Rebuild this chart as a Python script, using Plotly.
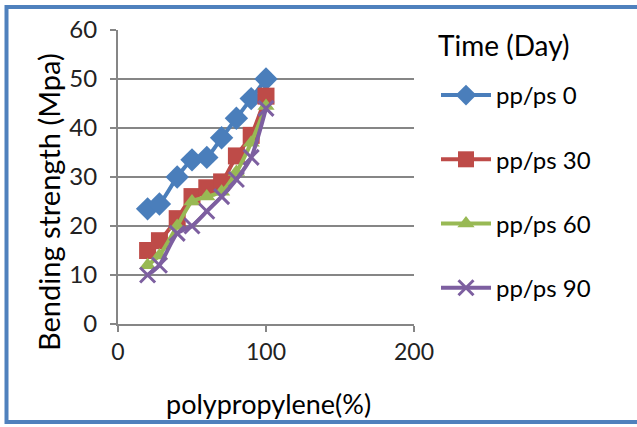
import plotly.graph_objects as go

x_pct = [20, 28, 40, 50, 60, 70, 80, 90, 100]
pp_ps_0 = [23.5, 24.5, 30, 33.5, 34, 38, 42, 46, 50]
pp_ps_30 = [15, 17, 21.5, 26, 27.8, 29, 34.3, 38.5, 46.5]
pp_ps_60 = [12, 14, 20, 25, 26, 27, 31, 37, 44.5]
pp_ps_90 = [10, 12, 18.5, 20, 23, 26, 29.5, 34, 44]
series_names = ["pp/ps 0", "pp/ps 30", "pp/ps 60", "pp/ps 90"]
y_ticks = [0, 10, 20, 30, 40, 50, 60]
x_ticks = [0, 100, 200]

colors = ["#4A7EBB", "#BE4B48", "#98B954", "#7D5FA0"]
symbols = ["diamond", "square", "triangle-up", "x-thin"]
sizes = [18, 17, 15, 15]
series = [pp_ps_0, pp_ps_30, pp_ps_60, pp_ps_90]

FONT = "Lato, 'Open Sans', sans-serif"

fig = go.Figure()
for i, (name, ys) in enumerate(zip(series_names, series)):
    marker = dict(symbol=symbols[i], size=sizes[i], color=colors[i])
    if symbols[i] == "x-thin":
        marker["line"] = dict(color=colors[i], width=3)
    fig.add_trace(go.Scatter(
        x=x_pct, y=ys, name=name, mode="lines+markers",
        line=dict(color=colors[i], width=4, shape="spline", smoothing=0.6),
        marker=marker, legendgroup=name,
    ))

W, H = 637, 427
L, R, T, B = 118, 414, 30, 324

def px(xp):
    return (xp - L) / (R - L)

def py(yp):
    return (B - yp) / (B - T)

fig.add_shape(type="rect", xref="paper", yref="paper",
              x0=px(6.5), x1=px(645), y0=py(422), y1=py(7),
              line=dict(color="#4F81BD", width=4), layer="below")

annotations = [
    dict(text="Time (Day)", x=px(436), y=py(45), xanchor="left", yanchor="middle",
         font=dict(size=28)),
    dict(text="polypropylene(%)", x=px(268), y=py(403), xanchor="center",
         yanchor="middle", font=dict(size=27)),
    dict(text="Bending strength (Mpa)", x=px(48), y=py(202), xanchor="center",
         yanchor="middle", textangle=-90, font=dict(size=29)),
]
for a in annotations:
    a.update(xref="paper", yref="paper", showarrow=False)

fig.update_layout(
    width=W, height=H,
    margin=dict(l=L, r=W - R, t=T, b=H - B),
    paper_bgcolor="white", plot_bgcolor="white",
    font=dict(family=FONT, size=22, color="#000000"),
    showlegend=True,
    annotations=annotations,
    legend=dict(
        x=px(436), y=py(73), xanchor="left", yanchor="top",
        font=dict(size=24), tracegroupgap=30, itemwidth=50,
        bgcolor="rgba(0,0,0,0)", maxheight=400,
    ),
    xaxis=dict(
        range=[0, 200], tickvals=x_ticks, showgrid=False, zeroline=False,
        showline=True, linecolor="#868686", linewidth=2,
        ticks="outside", tickcolor="#868686", ticklen=6, tickwidth=2,
        tickfont=dict(size=23, color="#222222"),
    ),
    yaxis=dict(
        range=[0, 60], tickvals=y_ticks, showgrid=True, gridcolor="#868686",
        gridwidth=2, zeroline=False,
        showline=True, linecolor="#868686", linewidth=2,
        ticks="outside", tickcolor="#868686", ticklen=6, tickwidth=2,
        ticklabelstandoff=8,
        tickfont=dict(size=24, color="#222222"),
    ),
)

fig.write_html("out.html")
